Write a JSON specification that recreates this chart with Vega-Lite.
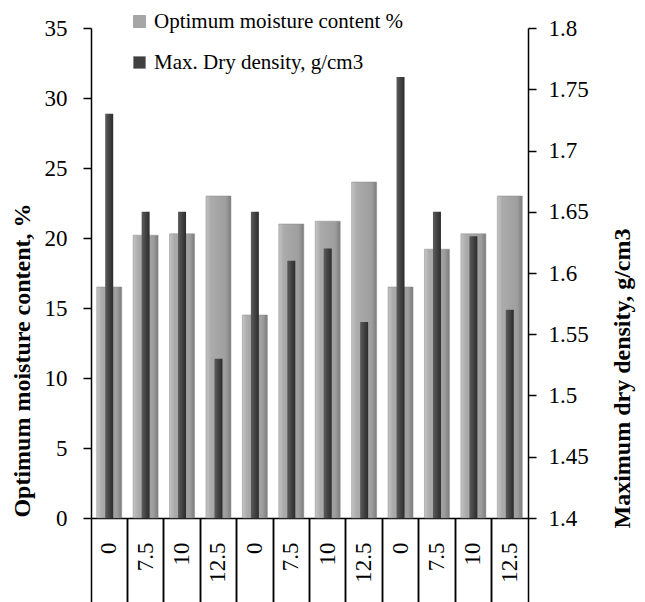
{
  "$schema": "https://vega.github.io/schema/vega-lite/v6.json",
  "width": 437,
  "height": 490,
  "autosize": "none",
  "padding": {"left": 91, "top": 28, "right": 117, "bottom": 84},
  "background": "white",
  "config": {
    "font": "Liberation Serif, Times New Roman, serif",
    "view": {"stroke": null},
    "axis": {"grid": false, "domainColor": "black", "tickColor": "black", "domainWidth": 1.5, "tickWidth": 1.5, "labelColor": "black", "titleColor": "black", "labelFont": "Liberation Serif, Times New Roman, serif", "titleFont": "Liberation Serif, Times New Roman, serif", "labelFontSize": 23, "titleFontSize": 24},
    "legend": {"labelFont": "Liberation Serif, Times New Roman, serif"}
  },
  "datasets": {
    "main": [
      {"id": 1, "omc": 16.5, "mdd": 1.73},
      {"id": 2, "omc": 20.2, "mdd": 1.65},
      {"id": 3, "omc": 20.3, "mdd": 1.65},
      {"id": 4, "omc": 23.0, "mdd": 1.53},
      {"id": 5, "omc": 14.5, "mdd": 1.65},
      {"id": 6, "omc": 21.0, "mdd": 1.61},
      {"id": 7, "omc": 21.2, "mdd": 1.62},
      {"id": 8, "omc": 24.0, "mdd": 1.56},
      {"id": 9, "omc": 16.5, "mdd": 1.76},
      {"id": 10, "omc": 19.2, "mdd": 1.65},
      {"id": 11, "omc": 20.3, "mdd": 1.63},
      {"id": 12, "omc": 23.0, "mdd": 1.57}
    ],
    "legend": [
      {"series": "Optimum moisture content %"},
      {"series": "Max. Dry density, g/cm3"}
    ]
  },
  "layer": [
    {
      "data": {"name": "main"},
      "mark": {"type": "bar", "width": 25, "stroke": "#8a8a8a", "strokeWidth": 0.5,
        "color": {"gradient": "linear", "x1": 0, "x2": 1, "y1": 0, "y2": 0,
          "stops": [{"offset": 0, "color": "#c4c4c4"}, {"offset": 0.2, "color": "#ababab"}, {"offset": 0.8, "color": "#9e9e9e"}, {"offset": 1, "color": "#7c7c7c"}]}},
      "encoding": {
        "x": {"field": "id", "type": "ordinal", "sort": null,
          "scale": {"paddingInner": 0, "paddingOuter": 0},
          "axis": {"orient": "bottom", "title": null, "bandPosition": 0, "tickSize": 84, "labelAngle": -90, "labelPadding": -60,
            "labelExpr": "['0','7.5','10','12.5'][(datum.value - 1) % 4]"}},
        "y": {"field": "omc", "type": "quantitative",
          "scale": {"domain": [0, 35], "nice": false},
          "axis": {"values": [0, 5, 10, 15, 20, 25, 30, 35], "tickSize": 8, "labelPadding": 16,
            "title": "Optimum  moisture content, %", "titleFontWeight": "bold",
            "titleX": -69, "titleY": 332, "titleAlign": "center", "titleBaseline": "middle", "titleAngle": -90}}
      }
    },
    {
      "data": {"name": "main"},
      "mark": {"type": "bar", "width": 8,
        "color": {"gradient": "linear", "x1": 0, "x2": 1, "y1": 0, "y2": 0,
          "stops": [{"offset": 0, "color": "#5c5c5c"}, {"offset": 0.5, "color": "#434343"}, {"offset": 1, "color": "#2c2c2c"}]}},
      "encoding": {
        "x": {"field": "id", "type": "ordinal", "sort": null,
          "axis": {"orient": "bottom", "title": null, "bandPosition": 1, "tickSize": 84, "labels": false, "domain": false}},
        "y": {"field": "mdd", "type": "quantitative",
          "scale": {"domain": [1.4, 1.8], "nice": false, "zero": false},
          "axis": {"orient": "right", "values": [1.4, 1.45, 1.5, 1.55, 1.6, 1.65, 1.7, 1.75, 1.8], "format": ".2~f", "tickSize": 8, "labelPadding": 12,
            "title": "Maximum dry density, g/cm3", "titleFontWeight": "bold",
            "titleX": 94, "titleY": 350, "titleAlign": "center", "titleBaseline": "middle", "titleAngle": -90}},
        "y2": {"datum": 1.4}
      }
    },
    {
      "data": {"name": "legend"},
      "mark": {"type": "square", "opacity": 0},
      "encoding": {
        "color": {"field": "series", "type": "nominal", "sort": null,
          "scale": {"domain": ["Optimum moisture content %", "Max. Dry density, g/cm3"], "range": ["#a6a6a6", "#404040"]},
          "legend": {"title": null, "orient": "none", "legendX": 38, "legendY": -17, "symbolType": "square", "symbolSize": 144, "symbolOpacity": 1, "symbolStrokeColor": "#777777", "symbolStrokeWidth": 0.5, "labelFontSize": 21, "labelColor": "black", "labelOffset": 4, "rowPadding": 19, "labelLimit": 400}}
      }
    }
  ],
  "resolve": {"scale": {"y": "independent"}, "axis": {"y": "independent", "x": "independent"}}
}
